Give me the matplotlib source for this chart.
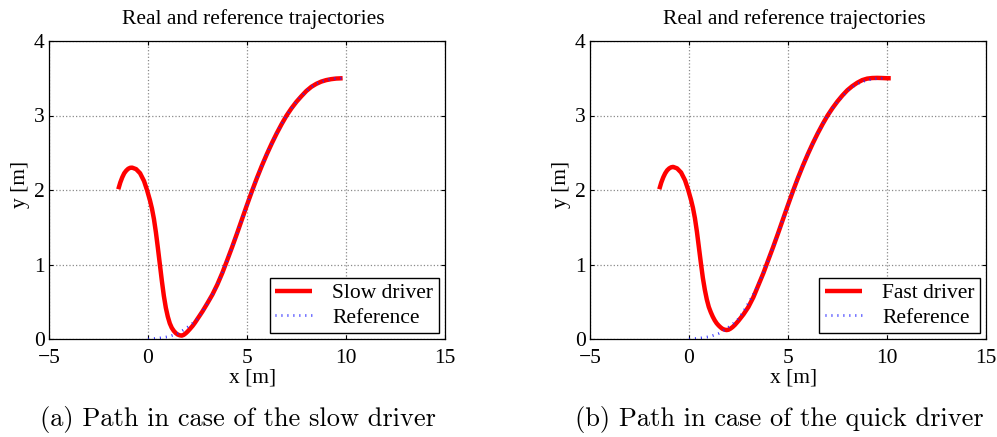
import matplotlib
matplotlib.use('Agg')
import matplotlib.pyplot as plt

# reference lane-change path (same for both drivers)
ref_x = [0.0, 0.5, 1.0, 1.25, 1.5, 1.75, 2.0, 2.25, 2.5, 2.75, 3.0, 3.25, 3.5, 3.75,
         4.0, 4.25, 4.5, 4.75, 5.0, 5.25, 5.5, 5.75, 6.0, 6.25, 6.5, 6.75, 7.0, 7.25,
         7.5, 7.75, 8.0, 8.25, 8.5, 8.75, 9.0, 9.25, 9.5, 9.8]
ref_y = [0.0, 0.01, 0.03, 0.05, 0.075, 0.115, 0.16, 0.21, 0.27, 0.37, 0.48, 0.595,
         0.73, 0.885, 1.058, 1.235, 1.42, 1.61, 1.80, 1.985, 2.16, 2.325, 2.48, 2.625,
         2.76, 2.885, 3.0, 3.098, 3.185, 3.26, 3.33, 3.385, 3.425, 3.455, 3.475, 3.488,
         3.496, 3.50]

# slow driver
slow_x = [-1.50, -1.40, -1.30, -1.20, -1.10, -1.00, -0.90, -0.80, -0.60, -0.40, -0.20,
          -0.05, 0.10, 0.20, 0.30, 0.40, 0.50, 0.60, 0.70, 0.80, 0.90, 1.00, 1.10, 1.20,
          1.30, 1.40, 1.50, 1.60, 1.70, 1.80, 1.90, 2.00, 2.12, 2.25, 2.375, 2.5, 2.75,
          3.0, 3.25, 3.5, 3.75, 4.0, 4.25, 4.5, 4.75, 5.0, 5.25, 5.5, 5.75, 6.0, 6.25,
          6.5, 6.75, 7.0, 7.25, 7.5, 7.75, 8.0, 8.25, 8.5, 8.75, 9.0, 9.25, 9.5, 9.83]
slow_y = [2.01, 2.10, 2.17, 2.225, 2.26, 2.285, 2.298, 2.30, 2.28, 2.225, 2.12,
          2.00, 1.86, 1.75, 1.61, 1.43, 1.22, 1.00, 0.78, 0.58, 0.42, 0.30, 0.21, 0.15,
          0.11, 0.08, 0.06, 0.05, 0.045, 0.055, 0.075, 0.10, 0.135, 0.175, 0.22, 0.27, 0.37,
          0.48, 0.595, 0.73, 0.885, 1.058, 1.235, 1.42, 1.61, 1.80, 1.985, 2.16, 2.325,
          2.48, 2.625, 2.76, 2.885, 3.0, 3.098, 3.185, 3.26, 3.33, 3.385, 3.425, 3.455,
          3.475, 3.488, 3.496, 3.50]

# fast driver
fast_x = [-1.50, -1.40, -1.30, -1.20, -1.10, -1.00, -0.90, -0.80, -0.60, -0.40, -0.20,
          -0.05, 0.10, 0.20, 0.30, 0.40, 0.50, 0.60, 0.70, 0.80, 0.90, 1.00, 1.10, 1.20,
          1.30, 1.40, 1.50, 1.60, 1.70, 1.80, 1.90, 2.00, 2.10, 2.20, 2.32, 2.5, 2.75,
          3.0, 3.25, 3.5, 3.75, 4.0, 4.25, 4.5, 4.75, 5.0, 5.25, 5.5, 5.75, 6.0, 6.25,
          6.5, 6.75, 7.0, 7.25, 7.5, 7.75, 8.0, 8.25, 8.5, 8.75, 9.0, 9.25, 9.5, 9.75,
          10.0, 10.19]
fast_y = [2.01, 2.10, 2.17, 2.225, 2.265, 2.29, 2.305, 2.31, 2.29, 2.235, 2.13,
          2.01, 1.87, 1.76, 1.62, 1.44, 1.23, 1.02, 0.82, 0.66, 0.53, 0.43, 0.36, 0.30,
          0.25, 0.21, 0.18, 0.155, 0.135, 0.125, 0.12, 0.125, 0.14, 0.16, 0.19, 0.245,
          0.33, 0.43, 0.56, 0.72, 0.88, 1.058, 1.235, 1.42, 1.61, 1.80, 1.985, 2.16,
          2.325, 2.48, 2.625, 2.76, 2.885, 3.0, 3.10, 3.19, 3.27, 3.34, 3.395, 3.44,
          3.475, 3.495, 3.503, 3.505, 3.503, 3.50, 3.50]

panels = [
    (slow_x, slow_y, 'Slow driver', '(a) Path in case of the slow driver'),
    (fast_x, fast_y, 'Fast driver', '(b) Path in case of the quick driver'),
]

plt.rcParams['font.family'] = ['Liberation Serif', 'DejaVu Serif']
plt.rcParams['axes.unicode_minus'] = True

fig = plt.figure(figsize=(9.97, 4.37), dpi=100)
lefts = [49 / 997, 590 / 997]
caption_x = [237.5 / 997, 779 / 997]
fs = 15.5

for i, (px, py, name, caption) in enumerate(panels):
    ax = fig.add_axes([lefts[i], 98 / 437, 396 / 997, 298 / 437])
    ax.plot(px, py, color='red', lw=3.2, label=name, solid_capstyle='butt',
            solid_joinstyle='round')
    ax.plot(ref_x, ref_y, color='#2a2aff', lw=2.0, dashes=(0.35, 1.8),
            dash_capstyle='butt', label='Reference')

    ax.set_xlim(-5, 15)
    ax.set_ylim(0, 4)
    ax.set_xticks([-5, 0, 5, 10, 15])
    ax.set_yticks([0, 1, 2, 3, 4])
    ax.grid(True, linestyle=':', color='#8a8a8a', lw=0.9)
    ax.tick_params(direction='in', length=3, width=0.8, labelsize=fs,
                   top=True, right=True)
    ax.tick_params(axis='x', pad=7)
    ax.tick_params(axis='y', pad=3)
    for s in ax.spines.values():
        s.set_linewidth(0.9)

    ax.text(0.517, 1.056, 'Real and reference trajectories', transform=ax.transAxes,
            ha='center', va='baseline', fontsize=fs)
    ax.text(0.515, -0.147, 'x [m]', transform=ax.transAxes,
            ha='center', va='baseline', fontsize=fs)
    ax.text(-0.073, 0.518, 'y [m]', transform=ax.transAxes, rotation=90,
            ha='center', va='center', fontsize=fs)

    leg = ax.legend(loc='lower right', bbox_to_anchor=(0.985, 0.019), borderaxespad=0,
                    fontsize=fs, handlelength=1.7, handletextpad=0.95, borderpad=0.26,
                    labelspacing=0.2, fancybox=False, framealpha=1)
    leg.get_frame().set_edgecolor('black')
    leg.get_frame().set_linewidth(1.0)

    fig.text(caption_x[i], 11 / 437, caption, ha='center', va='baseline',
             fontsize=19, family='cmr10')

fig.savefig('out.png', dpi=100)
